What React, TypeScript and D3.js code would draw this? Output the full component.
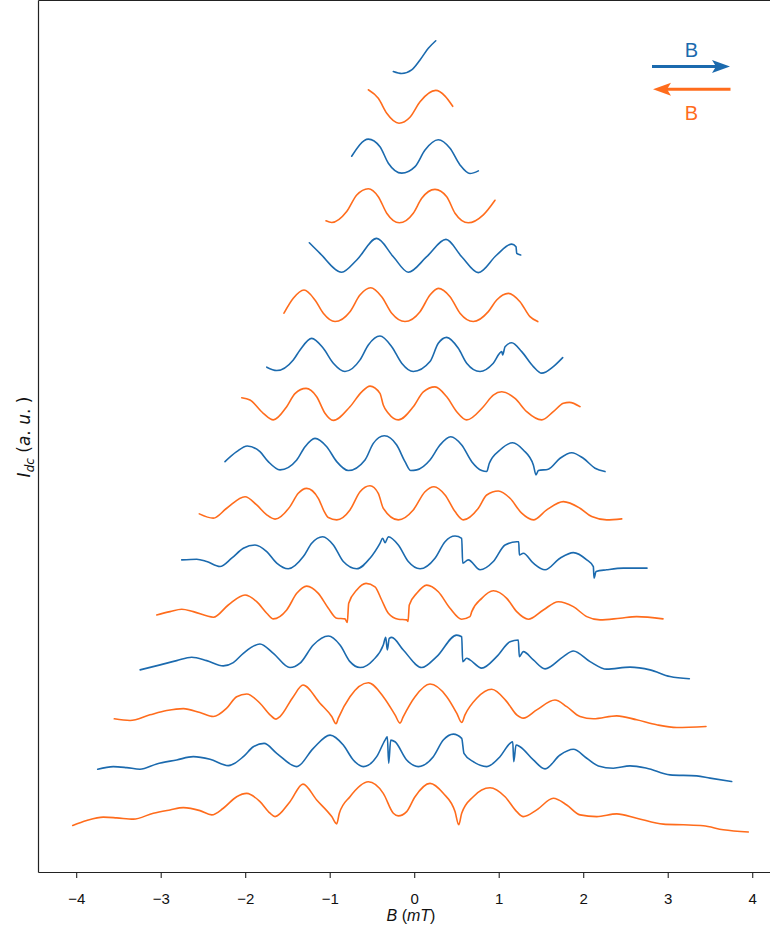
import React from "react";
import * as d3 from "d3";

type Pt = [number, number];

// B (mT), local I_dc (a.u.) pairs, bottom (0) to top (15)
const sweep00: Pt[] = [[-4.047,-2.37],[-3.882,-1.87],[-3.685,-1.53],[-3.527,-1.6],[-3.330,-1.73],[-3.093,-1.13],[-2.896,-0.8],[-2.738,-0.57],[-2.541,-0.87],[-2.402,-1.3],[-2.265,-0.63],[-2.107,0.53],[-1.988,0.87],[-1.831,0.03],[-1.712,-1.13],[-1.653,-1.47],[-1.476,0.03],[-1.322,1.8],[-1.160,0.2],[-0.982,-1.47],[-0.923,-2.2],[-0.892,-1.13],[-0.766,0.53],[-0.549,2.03],[-0.372,0.87],[-0.253,-1.13],[-0.194,-1.4],[-0.095,-0.97],[0.004,0.53],[0.181,1.87],[0.338,0.87],[0.477,-0.97],[0.521,-2.3],[0.556,-1.13],[0.693,0.53],[0.891,1.43],[1.069,0.53],[1.207,-0.97],[1.285,-1.47],[1.444,-0.8],[1.640,0.37],[1.799,-0.3],[1.956,-1.3],[2.154,-1.47],[2.391,-1.2],[2.627,-1.63],[2.942,-2.23],[3.179,-2.3],[3.415,-2.4],[3.652,-2.8],[3.948,-3.03]];
const sweep01: Pt[] = [[-3.751,-1.7],[-3.567,-1.44],[-3.408,-1.54],[-3.251,-1.7],[-3.053,-1.17],[-2.817,-0.77],[-2.620,-0.44],[-2.422,-0.7],[-2.206,-1.34],[-2.028,-0.44],[-1.910,0.56],[-1.783,0.9],[-1.633,-0.1],[-1.396,-1.44],[-1.200,0.4],[-1.002,1.73],[-0.845,0.73],[-0.727,-0.77],[-0.608,-1.44],[-0.450,-0.44],[-0.351,1.23],[-0.324,1.56],[-0.308,-1.1],[-0.284,1.23],[-0.233,1.06],[-0.095,-0.77],[0.043,-1.44],[0.220,-0.44],[0.338,1.23],[0.457,1.83],[0.556,1.4],[0.583,-0.1],[0.693,-0.94],[0.852,-1.44],[1.009,-0.44],[1.128,0.9],[1.160,1.06],[1.172,-0.94],[1.199,0.73],[1.246,0.56],[1.404,-0.77],[1.542,-1.67],[1.720,-0.27],[1.877,0.3],[2.036,-0.6],[2.173,-1.37],[2.350,-1.6],[2.548,-1.37],[2.746,-1.6],[3.021,-2.27],[3.337,-2.37],[3.495,-2.6],[3.751,-2.94]];
const sweep02: Pt[] = [[-3.555,-1.63],[-3.369,-1.8],[-3.133,-1.23],[-2.935,-0.8],[-2.738,-0.6],[-2.541,-1.0],[-2.383,-1.4],[-2.225,-0.56],[-2.107,0.6],[-1.988,0.87],[-1.831,-0.06],[-1.712,-1.23],[-1.641,-1.66],[-1.594,-1.4],[-1.437,0.6],[-1.322,1.77],[-1.121,-0.06],[-0.982,-1.4],[-0.931,-2.13],[-0.904,-1.56],[-0.766,0.6],[-0.549,2.0],[-0.372,0.6],[-0.233,-1.23],[-0.174,-2.06],[-0.135,-1.4],[0.004,0.6],[0.181,1.87],[0.379,0.6],[0.497,-1.06],[0.556,-2.0],[0.595,-1.23],[0.734,0.44],[0.911,1.34],[1.089,0.1],[1.207,-1.23],[1.285,-1.56],[1.444,-0.73],[1.660,0.27],[1.799,-0.4],[1.956,-1.4],[2.114,-1.63],[2.391,-1.33],[2.627,-1.73],[2.864,-2.23],[3.101,-2.5],[3.447,-2.4]];
const sweep03: Pt[] = [[-3.249,-1.7],[-3.012,-1.2],[-2.817,-0.77],[-2.639,-0.43],[-2.462,-0.77],[-2.265,-1.3],[-2.147,-0.97],[-2.028,-0.03],[-1.831,0.9],[-1.673,-0.03],[-1.476,-1.47],[-1.357,-1.03],[-1.200,0.8],[-1.022,1.7],[-0.884,0.8],[-0.766,-0.87],[-0.647,-1.47],[-0.490,-0.7],[-0.372,0.8],[-0.343,1.57],[-0.324,0.3],[-0.301,1.47],[-0.272,1.57],[-0.135,0.3],[0.083,-1.47],[0.260,-0.37],[0.497,1.8],[0.556,1.63],[0.568,-0.87],[0.615,-0.53],[0.654,-0.7],[0.793,-1.53],[0.970,-0.37],[1.128,1.13],[1.226,1.3],[1.238,-0.37],[1.285,0.13],[1.404,-0.7],[1.542,-1.6],[1.759,-0.37],[1.877,0.2],[2.075,-0.87],[2.272,-1.63],[2.548,-1.43],[2.785,-1.7],[3.021,-2.37],[3.250,-2.6]];
const sweep04: Pt[] = [[-3.053,-1.17],[-2.896,-0.84],[-2.757,-0.6],[-2.620,-0.84],[-2.383,-1.4],[-2.206,-0.17],[-2.008,0.83],[-1.870,0.16],[-1.751,-1.0],[-1.673,-1.57],[-1.515,-0.67],[-1.396,1.0],[-1.278,1.73],[-1.141,1.0],[-1.022,-0.5],[-0.923,-1.5],[-0.825,-1.57],[-0.798,-1.94],[-0.781,0],[-0.686,1.33],[-0.576,2.0],[-0.470,1.66],[-0.391,0.33],[-0.312,-1.0],[-0.194,-1.6],[-0.095,-1.67],[-0.079,-1.84],[-0.064,-0.17],[0.024,1.0],[0.142,1.83],[0.279,1.16],[0.418,-0.5],[0.556,-1.6],[0.654,-1.34],[0.675,-0.84],[0.793,0.5],[0.930,1.26],[1.089,0.5],[1.207,-0.84],[1.344,-1.6],[1.522,-0.67],[1.699,0.16],[1.877,-0.34],[2.036,-1.34],[2.193,-1.67],[2.430,-1.5],[2.627,-1.34],[2.938,-1.57]];
const sweep05: Pt[] = [[-2.757,-0.63],[-2.580,-0.56],[-2.462,-0.8],[-2.304,-1.3],[-2.166,-0.46],[-2.028,0.54],[-1.890,0.87],[-1.751,0.2],[-1.633,-0.96],[-1.496,-1.53],[-1.318,-0.3],[-1.219,1.04],[-1.089,1.7],[-0.963,0.87],[-0.845,-0.8],[-0.686,-1.53],[-0.529,-0.46],[-0.411,1.04],[-0.379,1.54],[-0.351,1.1],[-0.312,1.7],[-0.194,0.87],[-0.076,-0.8],[0.063,-1.53],[0.240,-0.46],[0.359,1.2],[0.477,1.77],[0.556,1.54],[0.568,-0.96],[0.634,-0.63],[0.773,-1.63],[0.930,-0.8],[1.069,0.87],[1.207,1.2],[1.231,1.2],[1.238,-0.13],[1.285,0.04],[1.404,-0.96],[1.542,-1.63],[1.720,-0.46],[1.877,0.1],[2.036,-0.63],[2.114,-1.3],[2.122,-2.46],[2.146,-1.8],[2.272,-1.63],[2.469,-1.46],[2.749,-1.46]];
const sweep06: Pt[] = [[-2.549,-1.0],[-2.383,-1.43],[-2.225,-0.43],[-2.008,0.73],[-1.870,-0.1],[-1.751,-1.1],[-1.653,-1.53],[-1.476,-0.27],[-1.378,1.07],[-1.278,1.57],[-1.141,0.57],[-1.070,-0.77],[-1.022,-1.37],[-0.923,-1.6],[-0.766,-0.6],[-0.647,1.23],[-0.529,1.83],[-0.431,1.07],[-0.372,-0.43],[-0.194,-1.6],[-0.017,-0.6],[0.122,1.23],[0.228,1.73],[0.359,0.9],[0.477,-0.77],[0.575,-1.6],[0.753,-0.43],[0.852,0.9],[0.989,1.3],[1.128,0.57],[1.266,-0.93],[1.404,-1.6],[1.562,-0.6],[1.759,0.23],[1.956,-0.43],[2.095,-1.27],[2.272,-1.6],[2.450,-1.5]];
const sweep07: Pt[] = [[-2.245,-0.74],[-2.107,0.26],[-1.981,0.83],[-1.831,0.26],[-1.733,-0.74],[-1.594,-1.57],[-1.396,-0.57],[-1.298,0.76],[-1.180,1.6],[-1.041,0.76],[-0.923,-0.74],[-0.786,-1.64],[-0.588,-0.57],[-0.490,1.1],[-0.360,1.86],[-0.213,0.93],[-0.115,-0.74],[-0.047,-1.64],[0.024,-1.57],[0.181,-0.57],[0.299,0.93],[0.426,1.76],[0.556,0.93],[0.675,-0.74],[0.793,-1.64],[0.852,-1.74],[0.883,-0.9],[1.009,0.43],[1.160,1.16],[1.285,0.43],[1.404,-1.07],[1.435,-2.07],[1.463,-1.64],[1.581,-1.5],[1.720,-0.4],[1.858,0.16],[1.995,-0.4],[2.134,-1.4],[2.252,-1.74]];
const sweep08: Pt[] = [[-2.047,0.69],[-1.949,0.46],[-1.792,-0.87],[-1.673,-1.54],[-1.515,-0.21],[-1.417,1.1],[-1.286,1.63],[-1.160,0.79],[-1.062,-0.87],[-0.963,-1.59],[-0.766,-0.21],[-0.627,1.29],[-0.529,1.86],[-0.411,1.13],[-0.372,-0.04],[-0.312,-0.87],[-0.194,-1.54],[-0.017,-0.21],[0.102,1.29],[0.240,1.79],[0.379,0.79],[0.497,-0.71],[0.615,-1.54],[0.812,-0.21],[0.930,0.96],[1.030,1.29],[1.187,0.63],[1.325,-0.71],[1.503,-1.54],[1.640,-0.71],[1.759,0.13],[1.830,0.23],[1.956,-0.21]];
const sweep09: Pt[] = [[-1.751,-1.23],[-1.633,-1.57],[-1.437,-0.5],[-1.357,0.5],[-1.219,1.67],[-1.082,0.67],[-0.963,-0.83],[-0.825,-1.67],[-0.647,-0.5],[-0.549,1.0],[-0.411,1.9],[-0.272,0.83],[-0.154,-0.83],[-0.017,-1.67],[0.181,-0.67],[0.279,1.17],[0.379,1.77],[0.516,0.67],[0.615,-0.83],[0.773,-1.67],[0.930,-0.83],[1.030,0.33],[1.041,0],[1.069,0.83],[1.148,1.23],[1.266,0.33],[1.404,-1.17],[1.503,-1.83],[1.640,-1.17],[1.751,-0.27]];
const sweep10: Pt[] = [[-1.547,-0.8],[-1.437,0.7],[-1.310,1.53],[-1.180,0.53],[-1.082,-0.8],[-0.943,-1.64],[-0.766,-0.64],[-0.648,1.03],[-0.521,1.76],[-0.391,0.86],[-0.272,-0.8],[-0.115,-1.64],[0.063,-0.64],[0.181,1.03],[0.279,1.7],[0.418,0.86],[0.536,-0.8],[0.693,-1.64],[0.871,-0.64],[0.970,0.53],[1.108,1.2],[1.246,0.36],[1.364,-1.14],[1.456,-1.64]];
const sweep11: Pt[] = [[-1.247,1.29],[-1.121,0.23],[-0.864,-1.67],[-0.686,-0.44],[-0.450,1.73],[-0.253,-0.11],[-0.076,-1.67],[0.142,-0.11],[0.370,1.63],[0.556,-0.11],[0.753,-1.71],[0.970,0.06],[1.148,1.16],[1.199,0.89],[1.207,0.23],[1.254,0.06]];
const sweep12: Pt[] = [[-1.050,-1.5],[-0.982,-1.67],[-0.805,-0.57],[-0.686,1.1],[-0.549,1.73],[-0.431,0.93],[-0.331,-0.73],[-0.182,-1.7],[-0.017,-0.73],[0.083,0.77],[0.240,1.67],[0.379,0.93],[0.477,-0.73],[0.634,-1.7],[0.812,-0.9],[0.950,0.57]];
const sweep13: Pt[] = [[-0.746,0],[-0.549,1.73],[-0.411,0.96],[-0.312,-0.7],[-0.154,-1.7],[0.004,-1.04],[0.122,0.63],[0.279,1.66],[0.418,0.8],[0.536,-0.87],[0.654,-1.74],[0.753,-1.47]];
const sweep14: Pt[] = [[-0.549,1.69],[-0.431,0.83],[-0.331,-0.67],[-0.186,-1.67],[-0.056,-1.07],[0.063,0.49],[0.249,1.63],[0.359,1.06],[0.450,0.03]];
const sweep15: Pt[] = [[-0.253,-1.47],[-0.154,-1.67],[-0.036,-1.3],[0.063,-0.3],[0.161,0.87],[0.249,1.63]];

const sweeps: Pt[][] = [sweep00, sweep01, sweep02, sweep03, sweep04, sweep05, sweep06, sweep07, sweep08, sweep09, sweep10, sweep11, sweep12, sweep13, sweep14, sweep15];
const sweepOffsets = [0, 5, 10, 15, 20, 25, 30, 35, 40, 45, 50, 55, 60, 65, 70, 75];
// "down" = orange (B swept downward), "up" = blue
const sweepDirections = ["down", "up", "down", "up", "down", "up", "down", "up", "down", "up", "down", "up", "down", "up", "down", "up"];
const xTicks = [-4, -3, -2, -1, 0, 1, 2, 3, 4];

const BLUE = "#1b6aae";
const ORANGE = "#ff6c1c";

const W = 770;
const H = 933;
const left = 38.5;
const right = 782.3;
const top = 0.5;
const bottom = 872.5;

export default function App() {
  const xScale = d3.scaleLinear().domain([-4.452, 4.35]).range([left, right]);
  const yScale = d3.scaleLinear().domain([-7.15, 80.73]).range([873, 0]);
  const fmt = d3.format("d");

  return (
    <svg
      width={W}
      height={H}
      style={{ position: "absolute", left: 0, top: 0, display: "block", background: "#fff" }}
    >
      <defs>
        <clipPath id="plotClip">
          <rect x={left} y={top} width={right - left} height={bottom - top} />
        </clipPath>
      </defs>
      <g clipPath="url(#plotClip)">
        {sweeps.map((pts, i) => {
          const off = sweepOffsets[i];
          const line = d3
            .line<Pt>()
            .x((d) => xScale(d[0]))
            .y((d) => yScale(d[1] + off))
            .curve(d3.curveMonotoneX);
          return (
            <path
              key={i}
              d={line(pts) || ""}
              fill="none"
              stroke={sweepDirections[i] === "up" ? BLUE : ORANGE}
              strokeWidth={1.6}
              strokeLinejoin="round"
              strokeLinecap="round"
            />
          );
        })}
      </g>

      {/* spines */}
      <g stroke="#222" strokeWidth={1.2} fill="none">
        <line x1={left} y1={top} x2={left} y2={bottom} />
        <line x1={left} y1={bottom} x2={right} y2={bottom} />
        <line x1={left} y1={top} x2={right} y2={top} />
        <line x1={right} y1={top} x2={right} y2={bottom} />
      </g>

      {/* x ticks */}
      <g fontFamily="'Liberation Sans', Arial, sans-serif" fontSize={15} fill="#111">
        {xTicks.map((t) => (
          <g key={t} transform={`translate(${xScale(t)},0)`}>
            <line y1={bottom} y2={bottom + 5.5} stroke="#222" strokeWidth={1.1} />
            <text y={904} textAnchor="middle">
              {fmt(t)}
            </text>
          </g>
        ))}
      </g>

      {/* x label */}
      <text x={411} y={921} textAnchor="middle" fontFamily="'Liberation Sans', Arial, sans-serif" fontSize={16} fill="#111">
        <tspan fontStyle="italic">B</tspan>
        <tspan> (</tspan>
        <tspan fontStyle="italic">mT</tspan>
        <tspan>)</tspan>
      </text>

      {/* y label */}
      <text
        transform="translate(30,437) rotate(-90)"
        textAnchor="middle"
        fontFamily="'DejaVu Sans', sans-serif"
        fontSize={17}
        fill="#111"
      >
        <tspan fontStyle="italic">I</tspan>
        <tspan fontStyle="italic" fontSize={12} dy={3.5}>dc</tspan>
        <tspan dy={-3.5}> (</tspan>
        <tspan fontStyle="italic">a</tspan>
        <tspan>. </tspan>
        <tspan fontStyle="italic">u</tspan>
        <tspan>. )</tspan>
      </text>

      {/* direction legend */}
      <g>
        <text x={691.5} y={56.5} textAnchor="middle" fontFamily="'Liberation Sans', Arial, sans-serif" fontSize={20} fill={BLUE}>
          B
        </text>
        <line x1={652} x2={718} y1={66.5} y2={66.5} stroke={BLUE} strokeWidth={3} />
        <path d="M730,66.5 L712,60 L716,66.5 L712,73 Z" fill={BLUE} />
        <line x1={730.5} x2={665} y1={89.3} y2={89.3} stroke={ORANGE} strokeWidth={3} />
        <path d="M653,89.3 L671,82.8 L667,89.3 L671,95.8 Z" fill={ORANGE} />
        <text x={691.5} y={120} textAnchor="middle" fontFamily="'Liberation Sans', Arial, sans-serif" fontSize={20} fill={ORANGE}>
          B
        </text>
      </g>
    </svg>
  );
}
